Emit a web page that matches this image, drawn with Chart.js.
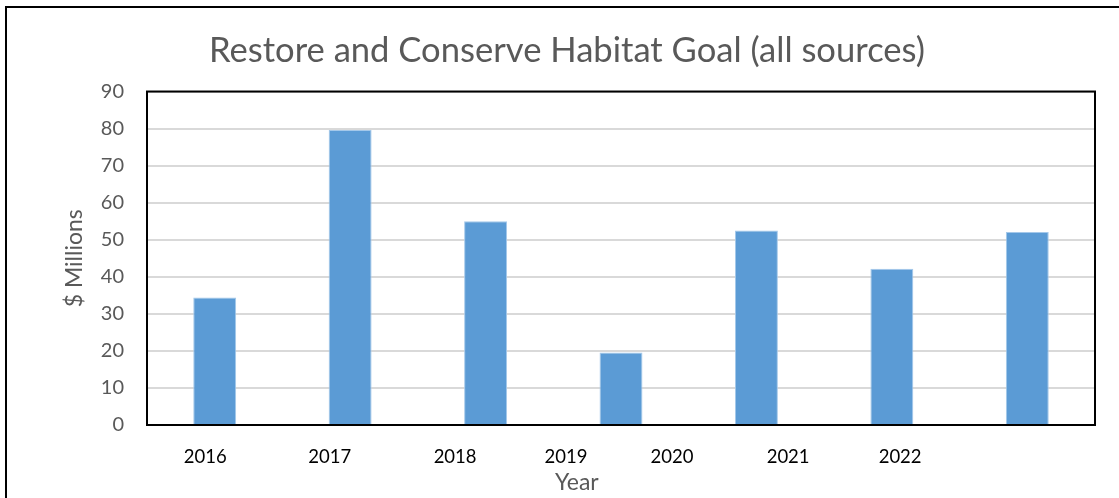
<!DOCTYPE html>
<html>
<head>
<meta charset="utf-8">
<script src="https://cdn.jsdelivr.net/npm/chart.js@4"></script>
<style>
  body { margin: 0; background: #fff; overflow: hidden; }
  .frame { position: absolute; left: 5px; top: 6px; width: 1300px; height: 700px; border: 2px solid #000; }
  .wrap { position: absolute; left: 0; top: 0; width: 1119px; height: 498px; }
</style>
</head>
<body>
<div class="frame"></div>
<div class="wrap"><canvas class="chart" width="1119" height="498"></canvas></div>
<script>
// values ($ millions)
const years = ["2016", "2017", "2018", "2019", "2020", "2021", "2022"];
const habitat = [34.4, 79.6, 55.0, 19.6, 52.5, 42.2, 52.1];
const yTicks = [0, 10, 20, 30, 40, 50, 60, 70, 80, 90];
// where the year labels sit, in bar-slot units (they drift left of the bars)
const yearSlots = [-0.07, 0.85, 1.775, 2.594, 3.377, 4.234, 5.061];

const grey = "#595959";

// black box round the plot area
const plotBox = {
  id: "plotBox",
  afterDatasetsDraw(chart) {
    const { ctx, chartArea: a } = chart;
    ctx.save();
    ctx.strokeStyle = "#000";
    ctx.lineWidth = 2;
    ctx.strokeRect(a.left, a.top, a.right - a.left, a.bottom - a.top);
    ctx.restore();
  },
};

const ctx = document.querySelector(".chart");
new Chart(ctx, {
  type: "bar",
  data: {
    labels: years,
    datasets: [
      {
        label: "Restore and Conserve Habitat",
        data: habitat,
        backgroundColor: "#5b9bd5",
        borderColor: "#a4c8ea",
        borderWidth: 1,
        categoryPercentage: 1,
        barPercentage: 0.317,
      },
    ],
  },
  plugins: [plotBox],
  options: {
    responsive: false,
    animation: false,
    maintainAspectRatio: false,
    layout: { padding: { left: 39, right: 24, top: 0, bottom: 0 } },
    plugins: {
      legend: { display: false },
      tooltip: { enabled: false },
      title: {
        display: true,
        text: "Restore and Conserve Habitat Goal (all sources)",
        color: grey,
        font: { family: "Lato", size: 34.6, weight: "normal" },
        padding: { top: 30, bottom: 20 },
      },
    },
    scales: {
      x: {
        display: false,
      },
      yearAxis: {
        type: "linear",
        position: "bottom",
        min: -0.5,
        max: 6.5,
        offset: false,
        grid: { display: false, drawTicks: false },
        border: { display: false },
        afterBuildTicks(scale) {
          scale.ticks = yearSlots.map((v) => ({ value: v }));
        },
        afterFit(scale) {
          scale.height = 73;
        },
        ticks: {
          autoSkip: false,
          maxRotation: 0,
          padding: 21,
          color: "#000",
          font: { family: "Lato", size: 18.5 },
          callback: (v, i) => years[i],
        },
        title: {
          display: true,
          // trailing spaces pull the centred title left, as in the original
          text: "Year" + " ".repeat(15),
          color: grey,
          font: { family: "Lato", size: 23 },
          padding: { top: 0, bottom: 2 },
        },
      },
      y: {
        min: 0,
        max: 90,
        afterBuildTicks(scale) {
          scale.ticks = yTicks.map((v) => ({ value: v }));
        },
        afterFit(scale) {
          scale.width = 108;
        },
        grid: { color: "#d9d9d9", lineWidth: 2, drawTicks: false },
        border: { display: false },
        ticks: {
          padding: 23,
          color: grey,
          font: { family: "Lato", size: 20 },
        },
        title: {
          display: true,
          text: "$ Millions",
          color: grey,
          font: { family: "Lato", size: 23 },
          padding: { top: 22, bottom: 0 },
        },
      },
    },
  },
});
</script>
</body>
</html>
